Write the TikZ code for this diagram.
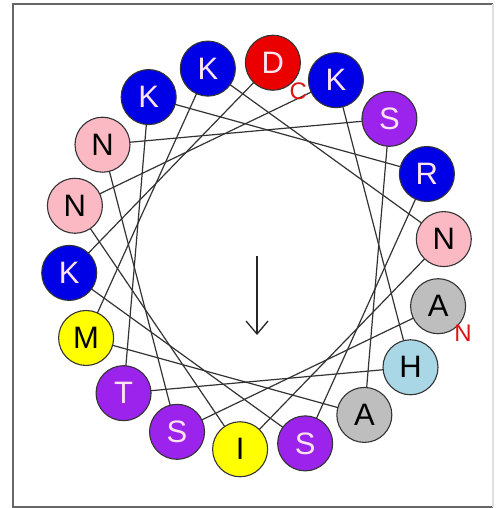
\documentclass[tikz,border=0pt]{standalone}
\usepackage{fontspec}
\setmainfont{Liberation Sans}
\usetikzlibrary{arrows.meta,backgrounds}
\definecolor{cblue}{RGB}{0,0,230}
\definecolor{cred}{RGB}{235,0,0}
\definecolor{cpurple}{RGB}{155,35,235}
\definecolor{cpink}{RGB}{250,185,195}
\definecolor{cgray}{RGB}{190,190,190}
\definecolor{clblue}{RGB}{170,215,230}
\definecolor{cyellow}{RGB}{255,255,0}
\definecolor{ctxt}{RGB}{255,228,240}
\definecolor{clabel}{RGB}{225,20,20}
\begin{document}
\begin{tikzpicture}[x=1pt,y=1pt]
\useasboundingbox (0,0) rectangle (496,508);
\tikzset{
  res/.style={circle, draw=black!80, line width=1.1pt, minimum size=55pt, inner sep=0pt, font=\fontsize{31}{31}\selectfont},
  dark/.style={res, text=ctxt},
  light/.style={res, text=black},
  chord/.style={draw=black!80, line width=1.2pt},
  tlabel/.style={text=clabel, font=\fontsize{24}{24}\selectfont, inner sep=0pt},
  frameline/.style={line width=1.8pt}
}
\draw[frameline, draw=black!60] (493,1) -- (13,1) -- (13,504) -- (493,504);
\draw[frameline, draw=black!12] (493,1) -- (493,504);
\coordinate (O) at (256.5,252);
\node[light, fill=cgray]   (r0)  at ([shift={(-15:188 and 194)}]O) {A};
\node[dark,  fill=cpurple] (r1)  at ([shift={(-115:188 and 194)}]O) {S};
\node[light, fill=cpink]   (r2)  at ([shift={(-215:188 and 194)}]O) {N};
\node[dark,  fill=cpurple] (r3)  at ([shift={(-315:188 and 194)}]O) {S};
\node[light, fill=cgray]   (r4)  at ([shift={(-415:188 and 194)}]O) {A};
\node[light, fill=cyellow] (r5)  at ([shift={(-515:188 and 194)}]O) {M};
\node[dark,  fill=cblue]   (r6)  at ([shift={(-615:188 and 194)}]O) {K};
\node[light, fill=cpink]   (r7)  at ([shift={(-715:188 and 194)}]O) {N};
\node[light, fill=cyellow] (r8)  at ([shift={(-815:188 and 194)}]O) {I};
\node[light, fill=cpink]   (r9)  at ([shift={(-915:188 and 194)}]O) {N};
\node[dark,  fill=cblue]   (r10) at ([shift={(-1015:188 and 194)}]O) {K};
\node[light, fill=clblue]  (r11) at ([shift={(-1115:188 and 194)}]O) {H};
\node[dark,  fill=cpurple] (r12) at ([shift={(-1215:188 and 194)}]O) {T};
\node[dark,  fill=cblue]   (r13) at ([shift={(-1315:188 and 194)}]O) {K};
\node[dark,  fill=cblue]   (r14) at ([shift={(-1415:188 and 194)}]O) {R};
\node[dark,  fill=cpurple] (r15) at ([shift={(-1515:188 and 194)}]O) {S};
\node[dark,  fill=cblue]   (r16) at ([shift={(-1615:188 and 194)}]O) {K};
\node[dark,  fill=cred]    (r17) at ([shift={(-1715:188 and 194)}]O) {D};
\begin{scope}[on background layer]
\foreach \a [evaluate=\a as \b using int(\a+1)] in {0,...,16}{
  \draw[chord] (r\a.center) -- (r\b.center);
}
\end{scope}
\node[tlabel] (nterm) at ([shift={(25,-27)}]r0.center) {N};
\node[tlabel] (cterm) at ([shift={(25.5,-28.5)}]r17.center) {C};
\coordinate (a1) at (257,252);
\coordinate (a2) at (257,173);
\draw[line width=1.3pt, draw=black!85, -{Straight Barb[length=13pt,width=22pt]}] (a1) -- (a2);
\end{tikzpicture}
\end{document}
